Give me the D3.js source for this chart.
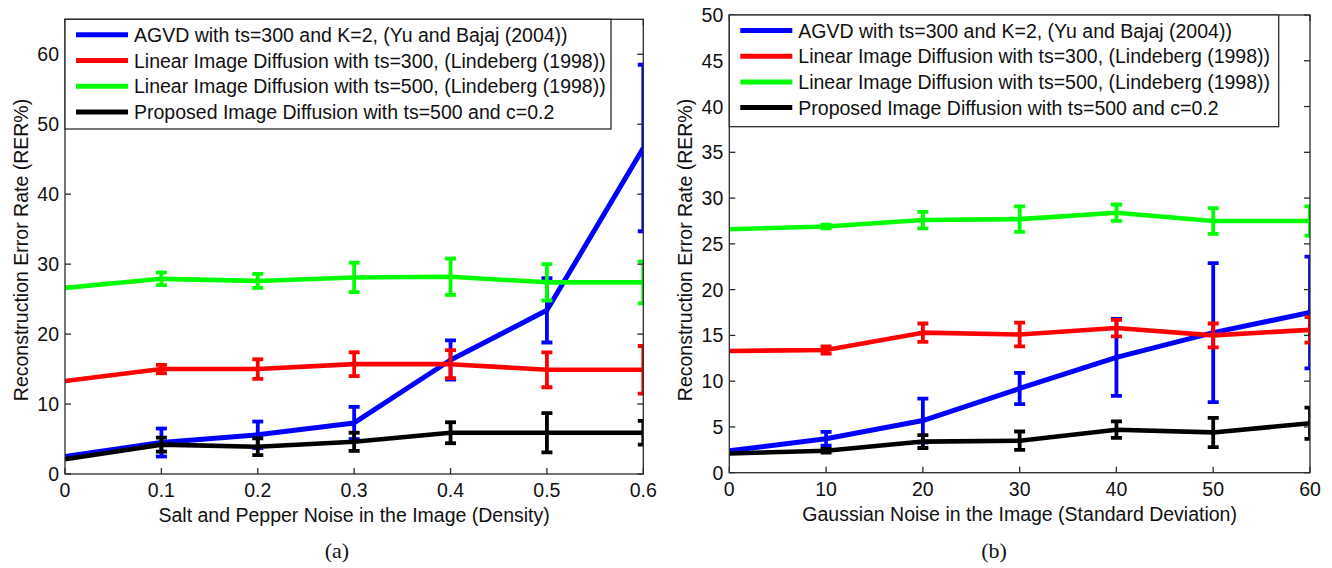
<!DOCTYPE html>
<html>
<head>
<meta charset="utf-8">
<script src="https://d3js.org/d3.v7.min.js"></script>
<style>
    body { margin: 0; background: #fff; }
    text { font-family: "Liberation Sans", Arial, sans-serif; fill: #111; }
    .caption { font-family: "Liberation Serif", "DejaVu Serif", serif; }
</style>
</head>
<body>
<svg id="chart" width="1332" height="568"></svg>
<script>
    // Data
    var densityX = [0, 0.1, 0.2, 0.3, 0.4, 0.5, 0.6];
    var gaussianX = [0, 10, 20, 30, 40, 50, 60];

    var legendLabels = [
        "AGVD with ts=300 and K=2, (Yu and Bajaj (2004))",
        "Linear Image Diffusion with ts=300, (Lindeberg (1998))",
        "Linear Image Diffusion with ts=500, (Lindeberg (1998))",
        "Proposed Image Diffusion with ts=500 and c=0.2"
    ];
    var seriesColors = ["#0000ff", "#ff0000", "#00ff00", "#000000"];

    // (a) salt and pepper noise
    var agvdA = [2.5, 4.5, 5.6, 7.3, 16.3, 23.4, 46.6];
    var agvdAErr = [0, 2.0, 1.9, 2.3, 2.8, 4.6, 11.9];
    var lin300A = [13.3, 15.0, 15.0, 15.7, 15.7, 14.9, 14.9];
    var lin300AErr = [0, 0.6, 1.4, 1.7, 2.0, 2.5, 3.4];
    var lin500A = [26.6, 27.9, 27.6, 28.1, 28.2, 27.4, 27.4];
    var lin500AErr = [0, 0.9, 1.0, 2.1, 2.6, 2.6, 3.0];
    var proposedA = [2.1, 4.2, 3.9, 4.6, 5.9, 5.9, 5.9];
    var proposedAErr = [0, 1.0, 1.2, 1.3, 1.5, 2.8, 1.7];

    // (b) gaussian noise
    var agvdB = [2.4, 3.7, 5.7, 9.2, 12.6, 15.3, 17.5];
    var agvdBErr = [0, 0.75, 2.4, 1.7, 4.2, 7.6, 6.1];
    var lin300B = [13.3, 13.4, 15.3, 15.1, 15.8, 15.0, 15.6];
    var lin300BErr = [0, 0.4, 1.0, 1.3, 0.9, 1.3, 1.4];
    var lin500B = [26.6, 26.9, 27.6, 27.7, 28.4, 27.5, 27.5];
    var lin500BErr = [0, 0.2, 0.9, 1.4, 0.9, 1.4, 1.6];
    var proposedB = [2.1, 2.4, 3.4, 3.5, 4.7, 4.4, 5.4];
    var proposedBErr = [0, 0.2, 0.7, 1.0, 0.9, 1.6, 1.7];

    var xTicksA = [0, 0.1, 0.2, 0.3, 0.4, 0.5, 0.6];
    var yTicksA = [0, 10, 20, 30, 40, 50, 60];
    var xTicksB = [0, 10, 20, 30, 40, 50, 60];
    var yTicksB = [0, 5, 10, 15, 20, 25, 30, 35, 40, 45, 50];

    var svg = d3.select("#chart");

    function panel(opts) {
        var x = d3.scaleLinear().domain(opts.xDomain).range([opts.left, opts.right]);
        var y = d3.scaleLinear().domain(opts.yDomain).range([opts.bottom, opts.top]);
        var g = svg.append("g");

        g.append("clipPath").attr("id", opts.id + "-clip")
            .append("rect")
            .attr("x", opts.left).attr("y", opts.top)
            .attr("width", opts.right - opts.left)
            .attr("height", opts.bottom - opts.top);

        var plot = g.append("g").attr("clip-path", "url(#" + opts.id + "-clip)");

        var line = d3.line()
            .x(function(d) { return x(d.x); })
            .y(function(d) { return y(d.y); });

        // one errorbar call per series, later ones drawn on top
        opts.series.forEach(function(s, i) {
            var pts = opts.xs.map(function(v, j) {
                return { x: v, y: s.values[j], e: s.err[j] };
            });
            var sg = plot.append("g");
            sg.append("path")
                .datum(pts)
                .attr("d", line)
                .attr("fill", "none")
                .attr("stroke", seriesColors[i])
                .attr("stroke-width", i === 0 ? 5 : 4.6)
                .attr("stroke-linejoin", "round");

            var bars = sg.selectAll(".err")
                .data(pts.filter(function(d) { return d.e > 0; }))
                .enter().append("g")
                .attr("stroke", seriesColors[i])
                .attr("stroke-width", 3.8);
            bars.append("line")
                .attr("x1", function(d) { return x(d.x); })
                .attr("x2", function(d) { return x(d.x); })
                .attr("y1", function(d) { return y(d.y - d.e); })
                .attr("y2", function(d) { return y(d.y + d.e); });
            [-1, 1].forEach(function(sgn) {
                bars.append("line")
                    .attr("x1", function(d) { return x(d.x) - 5.5; })
                    .attr("x2", function(d) { return x(d.x) + 5.5; })
                    .attr("y1", function(d) { return y(d.y + sgn * d.e); })
                    .attr("y2", function(d) { return y(d.y + sgn * d.e); });
            });
        });

        // box and inward ticks
        var axis = g.append("g").attr("stroke", "#2b2b2b").attr("stroke-width", 1.3);
        axis.append("rect")
            .attr("x", opts.left).attr("y", opts.top)
            .attr("width", opts.right - opts.left)
            .attr("height", opts.bottom - opts.top)
            .attr("fill", "none");
        opts.xTicks.forEach(function(t) {
            axis.append("line").attr("x1", x(t)).attr("x2", x(t))
                .attr("y1", opts.bottom).attr("y2", opts.bottom - 6);
            axis.append("line").attr("x1", x(t)).attr("x2", x(t))
                .attr("y1", opts.top).attr("y2", opts.top + 6);
        });
        opts.yTicks.forEach(function(t) {
            axis.append("line").attr("x1", opts.left).attr("x2", opts.left + 6)
                .attr("y1", y(t)).attr("y2", y(t));
            axis.append("line").attr("x1", opts.right).attr("x2", opts.right - 6)
                .attr("y1", y(t)).attr("y2", y(t));
        });

        g.selectAll(".xt").data(opts.xTicks).enter().append("text")
            .attr("x", function(d) { return x(d); })
            .attr("y", opts.bottom + 23)
            .attr("text-anchor", "middle")
            .style("font-size", "19.5px")
            .text(function(d) { return String(d); });

        g.selectAll(".yt").data(opts.yTicks).enter().append("text")
            .attr("x", opts.left - 6)
            .attr("y", function(d) { return y(d); })
            .attr("dy", "0.36em")
            .attr("text-anchor", "end")
            .style("font-size", "19.5px")
            .text(function(d) { return String(d); });

        // axis titles
        g.append("text")
            .attr("x", (opts.left + opts.right) / 2)
            .attr("y", opts.bottom + 48)
            .attr("text-anchor", "middle")
            .style("font-size", "19.5px")
            .text(opts.xLabel);

        g.append("text")
            .attr("transform", "translate(" + (opts.left - 37) + "," + 250 + ") rotate(-90)")
            .attr("text-anchor", "middle")
            .style("font-size", "19.5px")
            .text("Reconstruction Error Rate (RER%)");

        g.append("text")
            .attr("class", "caption")
            .attr("x", opts.captionX)
            .attr("y", 558)
            .attr("text-anchor", "middle")
            .style("font-size", "22px")
            .text(opts.caption);

        // legend
        var leg = g.append("g");
        leg.append("rect")
            .attr("x", opts.left).attr("y", opts.top)
            .attr("width", opts.legendRight - opts.left)
            .attr("height", opts.legendBottom - opts.top)
            .attr("fill", "#fff")
            .attr("stroke", "#2b2b2b")
            .attr("stroke-width", 1.3);
        legendLabels.forEach(function(lab, i) {
            var ly = opts.top + 15.5 + i * 25.7;
            leg.append("line")
                .attr("x1", opts.left + 11).attr("x2", opts.left + 63)
                .attr("y1", ly).attr("y2", ly)
                .attr("stroke", seriesColors[i])
                .attr("stroke-width", 5);
            leg.append("text")
                .attr("x", opts.left + 69)
                .attr("y", ly)
                .attr("dy", "0.36em")
                .style("font-size", "19.5px")
                .text(lab);
        });
    }

    panel({
        id: "pa",
        left: 65, right: 643.3, top: 19.3, bottom: 474,
        xDomain: [0, 0.6], yDomain: [0, 65],
        xs: densityX,
        xTicks: xTicksA, yTicks: yTicksA,
        series: [
            { values: agvdA, err: agvdAErr },
            { values: lin300A, err: lin300AErr },
            { values: lin500A, err: lin500AErr },
            { values: proposedA, err: proposedAErr }
        ],
        xLabel: "Salt and Pepper Noise in the Image (Density)",
        legendRight: 611, legendBottom: 129,
        caption: "(a)", captionX: 337
    });

    panel({
        id: "pb",
        left: 729.3, right: 1310, top: 15, bottom: 472.7,
        xDomain: [0, 60], yDomain: [0, 50],
        xs: gaussianX,
        xTicks: xTicksB, yTicks: yTicksB,
        series: [
            { values: agvdB, err: agvdBErr },
            { values: lin300B, err: lin300BErr },
            { values: lin500B, err: lin500BErr },
            { values: proposedB, err: proposedBErr }
        ],
        xLabel: "Gaussian Noise in the Image (Standard Deviation)",
        legendRight: 1278.7, legendBottom: 126.7,
        caption: "(b)", captionX: 994
    });
</script>
</body>
</html>
